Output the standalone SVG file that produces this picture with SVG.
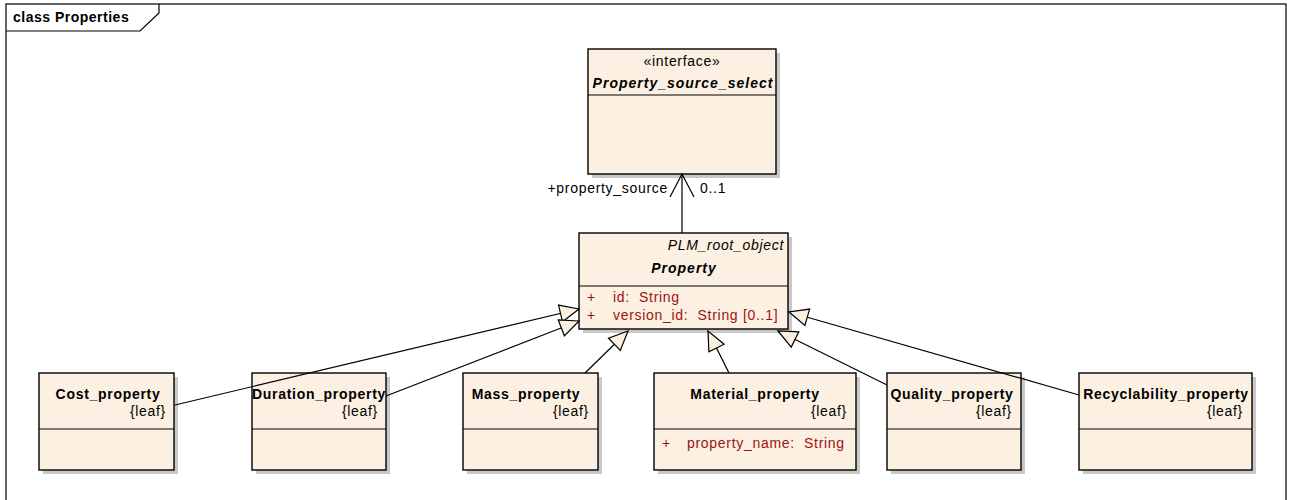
<svg xmlns="http://www.w3.org/2000/svg" width="1290" height="500" viewBox="0 0 1290 500">
<defs>
<style>
text{font-family:"Liberation Sans",Arial,sans-serif;font-size:14px;letter-spacing:0.7px;fill:#000;white-space:pre}
.box{fill:#FBF0E2;stroke:#000;stroke-width:1.4}
.sh{fill:#c8c8c8}
.div{stroke:#000;stroke-width:1.2}
.name{font-weight:bold}
.bi{font-weight:bold;font-style:italic;letter-spacing:1px}
.it{font-style:italic}
.attr{fill:#a01010}
.con{stroke:#000;stroke-width:1.2;fill:none}
</style>
<marker id="gen" viewBox="-21 -11 23 22" refX="0" refY="0" markerWidth="23" markerHeight="22" markerUnits="userSpaceOnUse" orient="auto">
<path d="M0,0 L-19,-8.5 L-19,8.5 Z" fill="#FBF0E2" stroke="#000" stroke-width="1.2"/>
</marker>
<marker id="open" viewBox="-26 -14 28 28" refX="0" refY="0" markerWidth="28" markerHeight="28" markerUnits="userSpaceOnUse" orient="auto">
<path d="M-23,-12 L0,0 L-23,12" fill="none" stroke="#000" stroke-width="1.2"/>
</marker>
</defs>
<rect x="0" y="0" width="1290" height="500" fill="#fff"/>
<g id="frame">
<rect x="6" y="4" width="1280" height="520" fill="none" stroke="#000" stroke-width="1.2"/>
<path d="M6,31 L140,31 L159,13 L159,4" fill="none" stroke="#000" stroke-width="1.2"/>
<text x="13" y="22" class="name" style="letter-spacing:0.5px">class Properties</text>
</g>
<g id="Property_source_select">
<rect class="sh" x="592" y="53" width="188" height="125"/>
<rect class="box" x="588" y="49" width="188" height="125"/>
<line class="div" x1="588" y1="95" x2="776" y2="95"/>
<text x="682" y="66" text-anchor="middle">«interface»</text>
<text x="683" y="88" text-anchor="middle" class="bi">Property_source_select</text>
</g>
<g id="Property">
<rect class="sh" x="583" y="237" width="209" height="96"/>
<rect class="box" x="579" y="233" width="209" height="96"/>
<line class="div" x1="579" y1="286" x2="788" y2="286"/>
<text x="784" y="250" text-anchor="end" class="it">PLM_root_object</text>
<text x="684" y="273" text-anchor="middle" class="bi">Property</text>
<text x="587" y="302" class="attr">+</text>
<text x="613" y="302" class="attr">id:  String</text>
<text x="587" y="320" class="attr">+</text>
<text x="613" y="320" class="attr">version_id:  String [0..1]</text>
</g>
<g id="Cost_property">
<rect class="sh" x="43" y="377" width="135" height="97"/>
<rect class="box" x="39" y="373" width="135" height="97"/>
<line class="div" x1="39" y1="429" x2="174" y2="429"/>
<text x="108" y="399" text-anchor="middle" class="name">Cost_property</text>
<text x="166" y="416" text-anchor="end">{leaf}</text>
</g>
<g id="Duration_property">
<rect class="sh" x="256" y="377" width="134" height="97"/>
<rect class="box" x="252" y="373" width="134" height="97"/>
<line class="div" x1="252" y1="429" x2="386" y2="429"/>
<text x="319" y="399" text-anchor="middle" class="name">Duration_property</text>
<text x="378" y="416" text-anchor="end">{leaf}</text>
</g>
<g id="Mass_property">
<rect class="sh" x="467" y="377" width="135" height="97"/>
<rect class="box" x="463" y="373" width="135" height="97"/>
<line class="div" x1="463" y1="429" x2="598" y2="429"/>
<text x="526" y="399" text-anchor="middle" class="name">Mass_property</text>
<text x="589" y="416" text-anchor="end">{leaf}</text>
</g>
<g id="Material_property">
<rect class="sh" x="658" y="377" width="202" height="97"/>
<rect class="box" x="654" y="373" width="202" height="97"/>
<line class="div" x1="654" y1="429" x2="856" y2="429"/>
<text x="755" y="399" text-anchor="middle" class="name">Material_property</text>
<text x="847" y="416" text-anchor="end">{leaf}</text>
<text x="662" y="448" class="attr">+</text>
<text x="687" y="448" class="attr">property_name:  String</text>
</g>
<g id="Quality_property">
<rect class="sh" x="891" y="377" width="134" height="97"/>
<rect class="box" x="887" y="373" width="134" height="97"/>
<line class="div" x1="887" y1="429" x2="1021" y2="429"/>
<text x="952" y="399" text-anchor="middle" class="name">Quality_property</text>
<text x="1012" y="416" text-anchor="end">{leaf}</text>
</g>
<g id="Recyclability_property">
<rect class="sh" x="1083" y="377" width="173" height="97"/>
<rect class="box" x="1079" y="373" width="173" height="97"/>
<line class="div" x1="1079" y1="429" x2="1252" y2="429"/>
<text x="1166" y="399" text-anchor="middle" class="name">Recyclability_property</text>
<text x="1243" y="416" text-anchor="end">{leaf}</text>
</g>
<g id="connectors">
<line class="con" x1="682" y1="233" x2="682" y2="174" marker-end="url(#open)"/>
<text x="668" y="193" text-anchor="end">+property_source</text>
<text x="700" y="193">0..1</text>
<line class="con" x1="175" y1="405" x2="579" y2="309" marker-end="url(#gen)"/>
<line class="con" x1="386" y1="396" x2="579" y2="321" marker-end="url(#gen)"/>
<line class="con" x1="585" y1="373" x2="628" y2="331" marker-end="url(#gen)"/>
<line class="con" x1="729" y1="373" x2="708" y2="331" marker-end="url(#gen)"/>
<line class="con" x1="887" y1="385" x2="778" y2="331" marker-end="url(#gen)"/>
<line class="con" x1="1079" y1="395" x2="789" y2="312" marker-end="url(#gen)"/>
</g>
</svg>
